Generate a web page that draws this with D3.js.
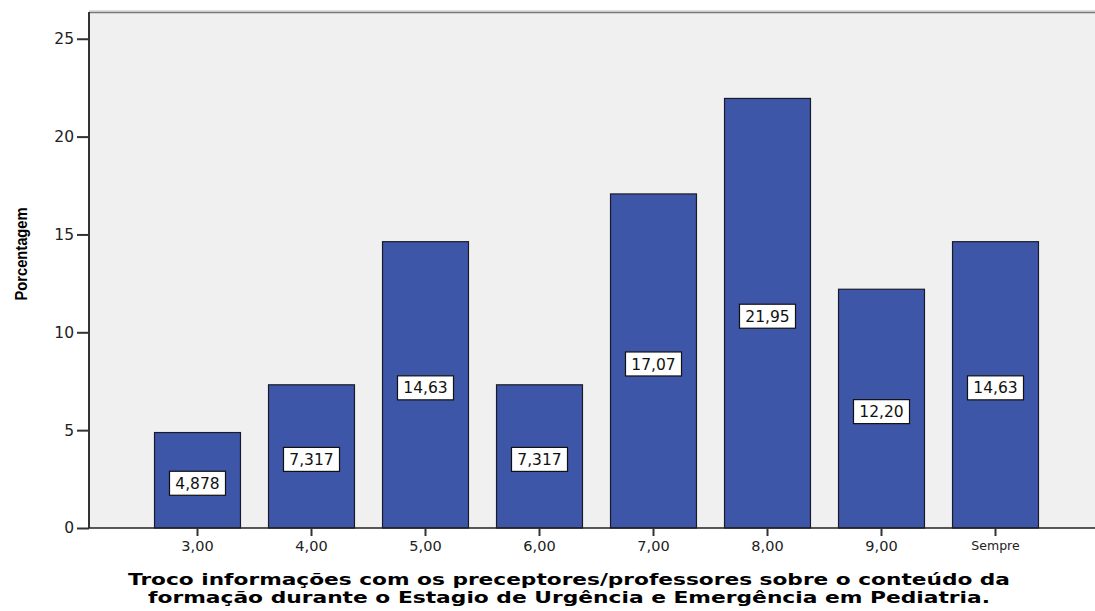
<!DOCTYPE html>
<html>
<head>
<meta charset="utf-8">
<script src="https://cdn.jsdelivr.net/npm/d3@7"></script>
<style>
  html, body { margin: 0; padding: 0; background: #ffffff; }
  svg { display: block; }
</style>
</head>
<body>
<svg id="chart" width="1095" height="611"></svg>
<script>
const categories = ["3,00", "4,00", "5,00", "6,00", "7,00", "8,00", "9,00", "Sempre"];
const values = [4.878, 7.317, 14.63, 7.317, 17.07, 21.95, 12.20, 14.63];
const valueLabels = ["4,878", "7,317", "14,63", "7,317", "17,07", "21,95", "12,20", "14,63"];
const yTicks = [0, 5, 10, 15, 20, 25];
const yTitle = "Porcentagem";
const xTitleLines = [
  "Troco informações com os preceptores/professores sobre o conteúdo da",
  "formação durante o Estagio de Urgência e Emergência em Pediatria."
];

const svg = d3.select("#chart");
const plot = { left: 89, top: 12, right: 1096, bottom: 528 };

const x = d3.scaleBand()
  .domain(categories)
  .range([140, 1052])
  .paddingInner(0.246)
  .paddingOuter(0.123);

const y = d3.scaleLinear()
  .domain([0, (plot.bottom - plot.top) / 19.57])
  .range([plot.bottom, plot.top]);

// plot background
svg.append("rect")
  .attr("x", plot.left).attr("y", plot.top)
  .attr("width", plot.right - plot.left).attr("height", plot.bottom - plot.top)
  .attr("fill", "#f0f0f0");

// top frame line
svg.append("line")
  .attr("x1", plot.left).attr("x2", plot.right)
  .attr("y1", plot.top + 0.5).attr("y2", plot.top + 0.5)
  .attr("stroke", "#777").attr("stroke-width", 1.5);
svg.append("line")
  .attr("x1", plot.left).attr("x2", plot.right)
  .attr("y1", plot.top - 1).attr("y2", plot.top - 1)
  .attr("stroke", "#bbb").attr("stroke-width", 1);

// bars
svg.append("g").selectAll("rect")
  .data(values)
  .join("rect")
  .attr("x", (d, i) => x(categories[i]) + 0.5)
  .attr("y", d => y(d))
  .attr("width", x.bandwidth())
  .attr("height", d => y(0) - y(d))
  .attr("fill", "#3d56a8")
  .attr("stroke", "#1a1a2a")
  .attr("stroke-width", 1.2);

// value label boxes
const lbl = svg.append("g").selectAll("g")
  .data(values)
  .join("g")
  .attr("transform", (d, i) => `translate(${x(categories[i]) + x.bandwidth() / 2 + 0.5},${y(d / 2) + 3})`);
lbl.append("rect")
  .attr("x", -28).attr("y", -12)
  .attr("width", 56).attr("height", 24)
  .attr("fill", "#ffffff")
  .attr("stroke", "#111").attr("stroke-width", 1.2);
lbl.append("text")
  .attr("text-anchor", "middle")
  .attr("dy", "0.36em")
  .attr("font-family", "DejaVu Sans, Verdana, sans-serif")
  .attr("font-size", 15.5)
  .attr("fill", "#111")
  .text((d, i) => valueLabels[i]);

// y axis
const yAxis = d3.axisLeft(y)
  .tickValues(yTicks)
  .tickSize(12)
  .tickPadding(3)
  .tickFormat(d3.format("d"));
const gy = svg.append("g")
  .attr("transform", `translate(${plot.left},0)`)
  .call(yAxis);
gy.select(".domain").attr("stroke", "#333").attr("stroke-width", 2)
  .attr("d", `M0,${plot.top}V${plot.bottom}`);
gy.selectAll(".tick line").attr("stroke", "#333").attr("stroke-width", 2);
gy.selectAll(".tick text")
  .attr("font-family", "DejaVu Sans, Verdana, sans-serif")
  .attr("font-size", 15.5)
  .attr("fill", "#222");

// x axis
const xAxis = d3.axisBottom(x)
  .tickSize(8)
  .tickPadding(5);
const gx = svg.append("g")
  .attr("transform", `translate(0.5,${plot.bottom})`)
  .call(xAxis);
gx.select(".domain").attr("stroke", "#222").attr("stroke-width", 1.5)
  .attr("d", `M${plot.left - 0.5},0H${plot.right}`);
gx.selectAll(".tick line").attr("stroke", "#333").attr("stroke-width", 2);
gx.selectAll(".tick text")
  .attr("font-family", "DejaVu Sans, Verdana, sans-serif")
  .attr("font-size", d => d === "Sempre" ? 12.5 : 14.5)
  .attr("fill", "#222");

// y title
svg.append("text")
  .attr("transform", "translate(27,254) rotate(-90)")
  .attr("text-anchor", "middle")
  .attr("font-family", "Liberation Sans, Arial, sans-serif")
  .attr("font-weight", "bold")
  .attr("font-size", 16)
  .attr("textLength", 93)
  .attr("lengthAdjust", "spacingAndGlyphs")
  .attr("fill", "#000")
  .text(yTitle);

// x title
const lineWidths = [882, 842];
const lineY = [585, 603];
xTitleLines.forEach((t, i) => {
  svg.append("text")
    .attr("x", 569).attr("y", lineY[i])
    .attr("text-anchor", "middle")
    .attr("font-family", "DejaVu Sans, Verdana, sans-serif")
    .attr("font-weight", "bold")
    .attr("font-size", 16.5)
    .attr("textLength", lineWidths[i])
    .attr("lengthAdjust", "spacingAndGlyphs")
    .attr("fill", "#000")
    .text(t);
});
</script>
</body>
</html>
